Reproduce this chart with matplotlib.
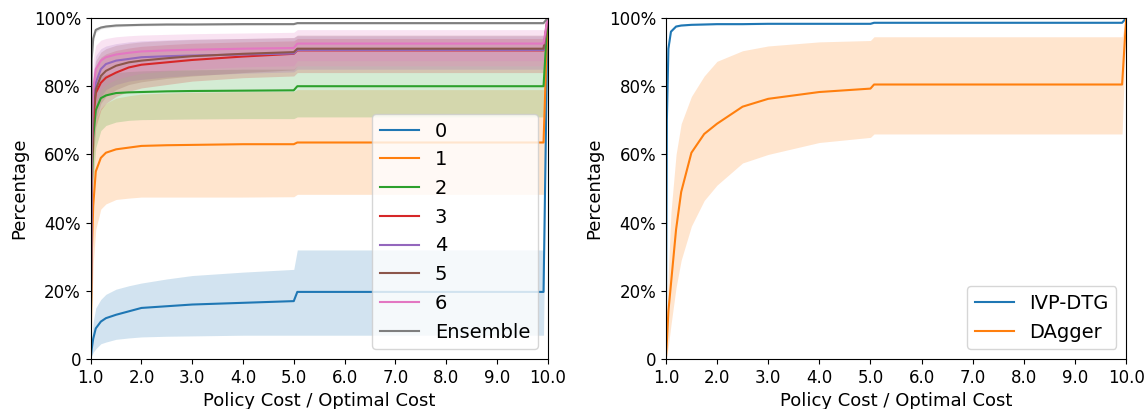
import matplotlib
matplotlib.use("Agg")
import matplotlib.pyplot as plt
import numpy as np
from matplotlib.ticker import FuncFormatter

# ---- data ----
x = [1.0, 1.02, 1.05, 1.1, 1.2, 1.3, 1.5, 1.75, 2.0, 2.5, 3.0, 4.0, 5.0, 5.07, 9.92, 10.0]

labels_left = ["0", "1", "2", "3", "4", "5", "6", "Ensemble"]
mean_left = {
    "0": [0, 3, 6, 9, 11, 12, 13, 14, 15, 15.5, 16, 16.5, 17, 19.7, 19.7, 100],
    "1": [0, 30, 45, 55, 59, 60.5, 61.5, 62, 62.5, 62.7, 62.8, 63, 63, 63.5, 63.5, 100],
    "2": [0, 50, 65, 73, 76.5, 77.3, 78, 78.2, 78.3, 78.5, 78.6, 78.7, 78.8, 80, 80, 100],
    "3": [0, 55, 70, 78, 81, 82.5, 84, 85.5, 86.3, 87, 87.7, 88.7, 89.5, 90.5, 90.5, 100],
    "4": [0, 60, 75, 81, 85, 86.5, 87.5, 88, 88.5, 88.8, 89, 89.3, 89.6, 90.6, 90.6, 100],
    "5": [0, 58, 72, 79, 83, 84.5, 86, 87, 87.5, 88.2, 88.8, 89.5, 90, 91, 91, 100],
    "6": [0, 65, 79, 85, 87.5, 88.5, 89.3, 89.8, 90.2, 90.5, 90.7, 91, 91.2, 92.5, 92.5, 100],
    "Ensemble": [0, 88, 94, 96.5, 97.2, 97.5, 97.8, 97.9, 98, 98.1, 98.1, 98.2, 98.2, 98.5, 98.5, 100],
}
lo_left = {
    "0": [0, 1, 2, 3, 4.5, 5, 5.8, 6.2, 6.5, 6.7, 6.8, 7, 7, 7, 7, 100],
    "1": [0, 15, 28, 38, 44, 45.5, 46.8, 47.2, 47.5, 47.5, 47.5, 47.5, 47.6, 48.3, 48.3, 100],
    "2": [0, 35, 52, 62, 67, 68.5, 69.5, 70, 70.2, 70.3, 70.4, 70.5, 70.5, 71, 71, 100],
    "3": [0, 40, 58, 68, 73, 75, 77, 78.5, 79.5, 80.5, 81.5, 82.5, 83, 84, 84, 100],
    "4": [0, 45, 62, 72, 77, 79, 80.5, 81.5, 82, 82.7, 83.2, 83.8, 84.2, 85, 85, 100],
    "5": [0, 42, 60, 70, 75, 77, 79, 80.5, 81.3, 82.3, 83, 84, 84.8, 86, 86, 100],
    "6": [0, 50, 66, 75, 79, 80.5, 82, 83, 83.8, 84.5, 85, 85.7, 86, 87.5, 87.5, 100],
    "Ensemble": [0, 86, 93, 95.8, 96.8, 97.1, 97.4, 97.6, 97.7, 97.8, 97.9, 97.9, 98, 98.2, 98.2, 100],
}
hi_left = {
    "0": [0, 6, 11, 15, 17.5, 19, 20.5, 21.5, 22.3, 23.5, 24.5, 25.5, 26.3, 32, 32, 100],
    "1": [0, 45, 62, 70, 73.5, 75, 76.5, 77.2, 77.7, 78, 78.2, 78.4, 78.5, 79, 79, 100],
    "2": [0, 62, 76, 81, 83, 83.5, 84, 84.3, 84.5, 84.7, 84.8, 85, 85, 86, 86, 100],
    "3": [0, 68, 80, 86, 88.5, 89.5, 90.5, 91.2, 91.7, 92.2, 92.6, 93, 93.3, 94, 94, 100],
    "4": [0, 72, 84, 89, 91, 91.8, 92.5, 93, 93.3, 93.6, 93.8, 94, 94.2, 94.8, 94.8, 100],
    "5": [0, 70, 82, 87.5, 90, 91, 92, 92.6, 93, 93.4, 93.7, 94, 94.3, 95, 95, 100],
    "6": [0, 76, 88, 92, 93.5, 94, 94.5, 94.8, 95, 95.2, 95.4, 95.6, 95.8, 96.6, 96.6, 100],
    "Ensemble": [0, 90, 95, 97.2, 97.6, 97.9, 98.2, 98.2, 98.3, 98.4, 98.4, 98.5, 98.5, 98.8, 98.8, 100],
}

labels_right = ["IVP-DTG", "DAgger"]
mean_right = {
    "IVP-DTG": [0, 70, 91, 96, 97.5, 97.8, 98, 98.1, 98.2, 98.2, 98.3, 98.3, 98.3, 98.6, 98.6, 100],
    "DAgger": [0, 5, 14, 22, 38, 49, 60.5, 66, 69, 74, 76.3, 78.3, 79.3, 80.5, 80.5, 100],
}
lo_right = {
    "IVP-DTG": [0, 69, 90.5, 95.8, 97.3, 97.6, 97.8, 97.9, 98, 98, 98.1, 98.1, 98.1, 98.4, 98.4, 100],
    "DAgger": [0, 1, 4, 10, 21, 29, 39, 46.5, 51, 57.5, 60, 63.5, 65, 66, 66, 100],
}
hi_right = {
    "IVP-DTG": [0, 71, 91.5, 96.2, 97.7, 98, 98.2, 98.3, 98.4, 98.4, 98.5, 98.5, 98.5, 98.8, 98.8, 100],
    "DAgger": [0, 10, 26, 43, 60, 69, 77, 83, 87.3, 90.4, 91.8, 93, 93.4, 94.5, 94.5, 100],
}

xticks = [1.0, 2.0, 3.0, 4.0, 5.0, 6.0, 7.0, 8.0, 9.0, 10.0]
yticks = [0, 20, 40, 60, 80, 100]

# ---- plot ----
plt.rcParams['font.family'] = ['DejaVu Sans']
fig = plt.figure(figsize=(11.48, 4.09), dpi=100)
ax1 = fig.add_axes([0.079, 0.122, 0.398, 0.834])
ax2 = fig.add_axes([0.580, 0.122, 0.401, 0.834])

colors = plt.rcParams['axes.prop_cycle'].by_key()['color']

def pct(v, pos):
    return "0" if v == 0 else f"{int(round(v))}%"

def style(ax):
    ax.set_xlim(1.0, 10.0)
    ax.set_ylim(0, 100)
    ax.set_xticks(xticks)
    ax.set_xticklabels([f"{t:.1f}" for t in xticks])
    ax.set_yticks(yticks)
    ax.yaxis.set_major_formatter(FuncFormatter(pct))
    ax.tick_params(labelsize=12)
    ax.set_xlabel("Policy Cost / Optimal Cost", fontsize=13)
    ax.set_ylabel("Percentage", fontsize=13)

for i, lab in enumerate(labels_left):
    c = colors[i % len(colors)]
    ax1.fill_between(x, lo_left[lab], hi_left[lab], color=c, alpha=0.2, linewidth=0)
    ax1.plot(x, mean_left[lab], color=c, label=lab, linewidth=1.5)
style(ax1)
ax1.legend(loc='lower right', fontsize=14)

for i, lab in enumerate(labels_right):
    c = colors[i]
    ax2.fill_between(x, lo_right[lab], hi_right[lab], color=c, alpha=0.2, linewidth=0)
    ax2.plot(x, mean_right[lab], color=c, label=lab, linewidth=1.5)
style(ax2)
ax2.legend(loc='lower right', fontsize=14)

fig.savefig("out.png", dpi=100)
